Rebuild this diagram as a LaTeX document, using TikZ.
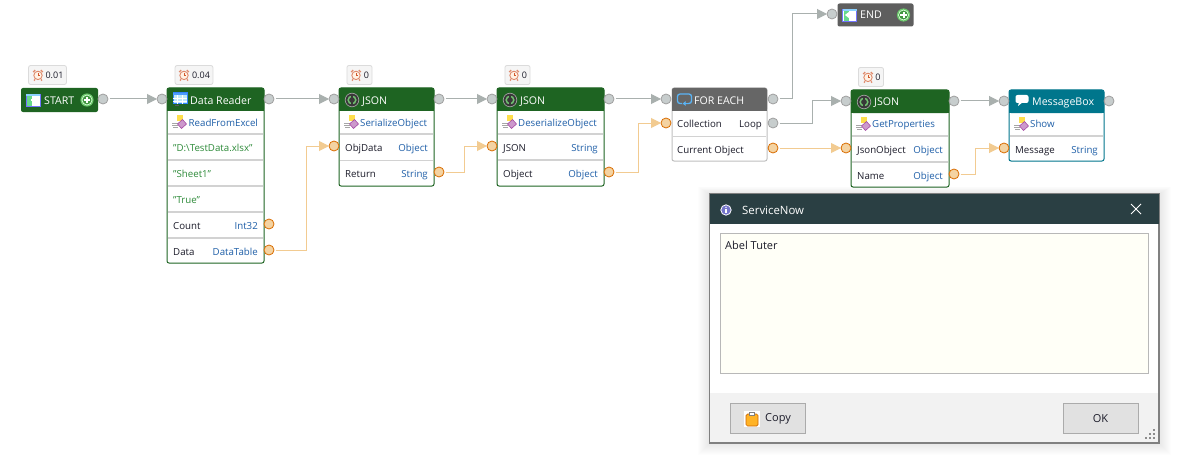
\documentclass[tikz,border=0pt]{standalone}
\usepackage{fontspec}
\setmainfont{Open Sans}
\usetikzlibrary{arrows.meta,calc}
\definecolor{hgreen}{HTML}{1E6422}
\definecolor{hgrey}{HTML}{666666}
\definecolor{hend}{HTML}{5E5E5E}
\definecolor{hteal}{HTML}{00768C}
\definecolor{wiregrey}{HTML}{A9B0AE}
\definecolor{wireorange}{HTML}{F2CB91}
\definecolor{typeblue}{HTML}{1F5FA8}
\definecolor{litgreen}{HTML}{2E8B3A}
\definecolor{labeltext}{HTML}{1C1C2A}
\definecolor{rowgrey}{HTML}{D2D2D2}
\definecolor{titlebg}{HTML}{2A3F43}
\definecolor{btngrey}{HTML}{E1E1E1}
\definecolor{loopblue}{HTML}{5AB4F5}
\tikzset{
    block/.style = {draw=#1, fill=white, rectangle, rounded corners=2pt, line width=1pt,
        anchor=north west, inner sep=0pt, outer sep=0pt},
    header/.style = {fill=#1, rectangle, rounded corners=2pt,
        anchor=north west, inner sep=0pt, outer sep=0pt},
    title/.style = {anchor=west, inner sep=0pt, text=white, font=\fontsize{10.6}{12}\selectfont, text height=9pt, text depth=1pt},
    lbl/.style = {anchor=west, inner sep=0pt, text=labeltext, font=\fontsize{9.7}{12}\selectfont, text height=9pt, text depth=1pt},
    typ/.style = {anchor=east, inner sep=0pt, text=typeblue, font=\fontsize{9.7}{12}\selectfont, text height=9pt, text depth=1pt},
    method/.style = {lbl, text=typeblue},
    literal/.style = {lbl, text=litgreen},
    rowline/.style = {draw=rowgrey, line width=1.6pt},
    port/.style = {draw=#1, circle, minimum size=10pt, inner sep=0pt, outer sep=0pt, line width=.8pt},
    flowport/.style = {port=gray!75, fill=black!18!white!95!teal},
    dataport/.style = {port=orange!85!black, fill=wireorange!85!white},
    flow/.style = {draw=wiregrey, line width=1pt, shorten <=1.5pt, -{Triangle[length=10pt,width=10pt]}},
    data/.style = {draw=wireorange, line width=1pt, shorten <=1.5pt, -{Triangle[length=10pt,width=10pt]}},
    badge/.style = {draw=black!14, fill=black!4, rounded corners=2pt, line width=.8pt, inner xsep=3pt, inner ysep=0pt,
        minimum height=19pt, text=labeltext, font=\fontsize{9}{11}\selectfont},
    btn/.style = {draw=black!33, fill=btngrey, line width=1pt, minimum width=75pt, minimum height=30pt, inner sep=0pt,
        text=labeltext, font=\fontsize{11}{12}\selectfont},
    clockicon/.pic = {
        \draw [draw=brown!70!red!70, fill=orange!10, line width=.9pt] (0,.4) circle [radius=4.2pt];
        \draw [draw=brown!70!red!70, line width=1.3pt] (-4.8,-3) -- (-2.8,-5) (4.8,-3) -- (2.8,-5) (-3,4.4) -- (-4,5.6) (3,4.4) -- (4,5.6);
        \draw [draw=brown!70!red, line width=.6pt] (0,-2) -- (0,.4) -- (1.8,.4);
    },
    plusicon/.pic = {
        \fill [green!45!gray!80!white] (0,0) circle [radius=6.6pt];
        \draw [white!85!green, line width=.7pt, fill=green!45!black!75!white] (0,0) circle [radius=5pt];
        \draw [white, line width=2pt] (-3.2,0) -- (3.2,0) (0,-3.2) -- (0,3.2);
    },
    windowicon/.pic = {
        \draw [draw=blue!55!white, fill=white, line width=.8pt] (-7,-6) rectangle (7,6);
        \fill [blue!40!cyan!45!white] (-7,-6) rectangle (7,-4);
        \fill [teal!50!green!60!white] (-6,-4) rectangle (-1,6);
    },
    readericon/.pic = {
        \draw [draw=blue!60!cyan!80, fill=cyan!25!white, line width=1pt] (-7,-6) rectangle (7,5);
        \fill [blue!55!cyan!70] (-7,-6) rectangle (7,-3.5);
        \draw [draw=white, line width=.6pt] (-7,-1) -- (7,-1) (-7,2) -- (7,2) (-2.5,-3.5) -- (-2.5,5) (2.5,-3.5) -- (2.5,5);
        \draw [draw=black!65, line width=1pt] (-5,7) -- (-1,7);
    },
    jsonicon/.pic = {
        \draw [draw=gray!75, fill=black!78, line width=.7pt] (0,0) circle [radius=6.8pt];
        \draw [draw=gray!60!green!80!white, line width=1.5pt] (0,0) circle [radius=3.8pt];
        \fill [black!78] (-.6,-5) rectangle (.6,5);
    },
    methodicon/.pic = {
        \fill [yellow!70!orange!70!white] (-3,-7) rectangle (2.5,-1);
        \draw [draw=black!35, line width=.6pt] (-8,1) -- (-2,1) (-8,3) -- (-2,3) (-7,5) -- (-2,5);
        \draw [draw=violet!70, fill=violet!40!white, line width=.6pt] (-2.5,2) -- (2.5,-2.5) -- (6.5,2) -- (1.5,6.5) -- cycle;
    },
    loopicon/.pic = {
        \draw [draw=loopblue, line width=1.3pt, rounded corners=2.5pt] (-7,-5.5) rectangle (7,4);
        \fill [hgrey] (-2.5,3) rectangle (3,5);
        \draw [draw=loopblue, -{Latex[length=3pt,width=5pt]}, line width=1.1pt] (3,4) -- (-2,4);
    },
    bubbleicon/.pic = {
        \fill [white, rounded corners=2pt] (-6.5,-5) rectangle (6.5,3);
        \fill [white] (-3,2) -- (-4,6) -- (1,2) -- cycle;
    },
    infoicon/.pic = {
        \draw [draw=white, fill=blue!45!gray!75, line width=.8pt] (0,0) circle [radius=5.2pt];
        \fill [white] (0,-2.6) circle [radius=.8pt];
        \draw [white, line width=1.1pt] (0,-1) -- (0,3);
    },
    clipicon/.pic = {
        \fill [white] (-8,-8) rectangle (8,8);
        \draw [draw=orange!80!black, fill=orange!70!yellow!85, line width=.7pt, rounded corners=1.5pt] (-6,-5) rectangle (6,7);
        \draw [draw=gray, fill=white, line width=.6pt] (-2.5,-7) rectangle (2.5,-4);
    }
}
\begin{document}
\begin{tikzpicture}[x=1pt, y=-1pt, >=latex, font=\fontsize{10}{12}\selectfont]
    \useasboundingbox (0,0) rectangle (1187,460);
    \fill [white] (0,0) rectangle (1187,460);

    \node [header=hgreen, minimum width=77pt, minimum height=24pt] (starthead) at (21,88) {};
    \pic at (33,100) {windowicon};
    \draw [white, -{Triangle[length=4pt,width=6pt]}, line width=1.2pt] (31,100) -- (37,100);
    \node [title] (starttitle) at (44,100) {START};
    \pic at (87,100) {plusicon};
    \node [badge] (startbadge) at (47.5,75) {\hspace*{14pt}0.01};
    \pic at (38,75) {clockicon};
    \node [flowport] (startout) at (103,99) {};

    \node [block=hgreen, minimum width=97pt, minimum height=175pt] (reader) at (167,88) {};
    \node [header=hgreen, minimum width=97pt, minimum height=23pt] (readerhead) at (reader.north west) {};
    \fill [hgreen] ([yshift=3pt]readerhead.south west) rectangle (readerhead.south east);
    \pic at (180,99) {readericon};
    \node [title] (readertitle) at (190,100) {Data Reader};
    \node [badge] (readerbadge) at (194,75) {\hspace*{14pt}0.04};
    \pic at (184,75) {clockicon};
    \pic at (180,122) {methodicon};
    \node [method] (readermethod) at (188.5,122) {ReadFromExcel};
    \node [literal] (readerfile) at (173,147) {"D:\textbackslash TestData.xlsx"};
    \node [literal] (readersheet) at (173,173) {"Sheet1"};
    \node [literal] (readertrue) at (173,199) {"True"};
    \node [lbl] (readercount) at (173,225) {Count};
    \node [typ] (readerint) at (258,225) {Int32};
    \node [lbl] (readerdata) at (173,251) {Data};
    \node [typ] (readertable) at (258,251) {DataTable};
    \draw [rowline] (168,134) -- (263,134);
    \draw [rowline] (168,160) -- (263,160);
    \draw [rowline] (168,186) -- (263,186);
    \draw [rowline] (168,212) -- (263,212);
    \draw [rowline] (168,238) -- (263,238);
    \node [flowport] (readerin) at (162,99) {};
    \node [flowport] (readerout) at (269,99) {};
    \node [dataport] (readercountout) at (269,224) {};
    \node [dataport] (readerdataout) at (269,250) {};

    \node [block=hgreen, minimum width=95pt, minimum height=98pt] (ser) at (339,88) {};
    \node [header=hgreen, minimum width=95pt, minimum height=23pt] (serhead) at (ser.north west) {};
    \fill [hgreen] ([yshift=3pt]serhead.south west) rectangle (serhead.south east);
    \pic at (352,100) {jsonicon};
    \node [title] (sertitle) at (362,100) {JSON};
    \node [badge] (serbadge) at (359.5,75) {\hspace*{14pt}0};
    \pic at (356,75) {clockicon};
    \pic at (352,122) {methodicon};
    \node [method] (sermethod) at (360,122) {SerializeObject};
    \node [lbl] (serobj) at (345,147) {ObjData};
    \node [typ] (serobjtype) at (428,147) {Object};
    \node [lbl] (serret) at (345,173) {Return};
    \node [typ] (serrettype) at (428,173) {String};
    \draw [rowline] (340,134) -- (433,134);
    \draw [rowline, line width=1pt] (340,160) -- (433,160);
    \node [flowport] (serin) at (334,99) {};
    \node [dataport] (serdatain) at (334,146) {};
    \node [flowport] (serout) at (439,99) {};
    \node [dataport] (serdataout) at (439,172) {};

    \node [block=hgreen, minimum width=107pt, minimum height=98pt] (des) at (497,88) {};
    \node [header=hgreen, minimum width=107pt, minimum height=23pt] (deshead) at (des.north west) {};
    \fill [hgreen] ([yshift=3pt]deshead.south west) rectangle (deshead.south east);
    \pic at (510,100) {jsonicon};
    \node [title] (destitle) at (520,100) {JSON};
    \node [badge] (desbadge) at (517.5,75) {\hspace*{14pt}0};
    \pic at (514,75) {clockicon};
    \pic at (510,122) {methodicon};
    \node [method] (desmethod) at (518,122) {DeserializeObject};
    \node [lbl] (desjson) at (503,147) {JSON};
    \node [typ] (desjsontype) at (598,147) {String};
    \node [lbl] (desobj) at (503,173) {Object};
    \node [typ] (desobjtype) at (598,173) {Object};
    \draw [rowline] (498,134) -- (603,134);
    \draw [rowline] (498,160) -- (603,160);
    \node [flowport] (desin) at (492,99) {};
    \node [dataport] (desdatain) at (492,146) {};
    \node [flowport] (desout) at (609,99) {};
    \node [dataport] (desdataout) at (609,172) {};

    \node [block=black!25, minimum width=95pt, minimum height=73pt] (each) at (672,88) {};
    \node [header=hgrey, minimum width=95pt, minimum height=23pt] (eachhead) at (each.north west) {};
    \fill [hgrey] ([yshift=3pt]eachhead.south west) rectangle (eachhead.south east);
    \pic at (684.5,99.5) {loopicon};
    \node [title] (eachtitle) at (694,100) {FOR EACH};
    \node [lbl] (eachcoll) at (677,124) {Collection};
    \node [lbl, anchor=east] (eachloop) at (762,124) {Loop};
    \node [lbl] (eachcur) at (677,149) {Current Object};
    \draw [rowline, line width=1pt] (673,136) -- (766,136);
    \node [flowport] (eachin) at (666,99) {};
    \node [dataport] (eachdatain) at (666,123) {};
    \node [flowport] (eachout) at (773,99) {};
    \node [flowport] (eachloopout) at (773,123) {};
    \node [dataport] (eachcurout) at (773,148) {};

    \node [header=hend, minimum width=76pt, minimum height=23pt] (endhead) at (837.5,3.5) {};
    \pic at (849.5,15) {windowicon};
    \draw [white, -{Triangle[length=4pt,width=6pt]}, line width=1.2pt] (851,15) -- (845,15);
    \node [title] (endtitle) at (860,15) {END};
    \pic at (903.5,15) {plusicon};
    \node [flowport] (endin) at (832,14) {};

    \node [block=hgreen, minimum width=98pt, minimum height=97pt] (props) at (851,90) {};
    \node [header=hgreen, minimum width=98pt, minimum height=23pt] (propshead) at (props.north west) {};
    \fill [hgreen] ([yshift=3pt]propshead.south west) rectangle (propshead.south east);
    \pic at (864,102) {jsonicon};
    \node [title] (propstitle) at (874,102) {JSON};
    \node [badge] (propsbadge) at (871,77) {\hspace*{14pt}0};
    \pic at (868,77) {clockicon};
    \pic at (864,124) {methodicon};
    \node [method] (propsmethod) at (872,124) {GetProperties};
    \node [lbl] (propsjson) at (857,149) {JsonObject};
    \node [typ] (propsjsontype) at (943,149) {Object};
    \node [lbl] (propsname) at (857,175) {Name};
    \node [typ] (propsnametype) at (943,175) {Object};
    \draw [rowline] (852,136) -- (948,136);
    \draw [rowline] (852,162) -- (948,162);
    \node [flowport] (propsin) at (846,101) {};
    \node [dataport] (propsdatain) at (846,148) {};
    \node [flowport] (propsout) at (954,101) {};
    \node [dataport] (propsdataout) at (954,174) {};

    \node [block=hteal, minimum width=95pt, minimum height=71pt] (msg) at (1009,90) {};
    \node [header=hteal, minimum width=95pt, minimum height=23pt] (msghead) at (msg.north west) {};
    \fill [hteal] ([yshift=3pt]msghead.south west) rectangle (msghead.south east);
    \pic at (1022,100) {bubbleicon};
    \node [title] (msgtitle) at (1032,102) {MessageBox};
    \pic at (1022,124) {methodicon};
    \node [method] (msgmethod) at (1030,124) {Show};
    \node [lbl] (msgmsg) at (1015,149) {Message};
    \node [typ] (msgtype) at (1098,149) {String};
    \draw [rowline] (1010,136) -- (1103,136);
    \node [flowport] (msgin) at (1004,101) {};
    \node [dataport] (msgdatain) at (1004,148) {};
    \node [flowport] (msgout) at (1109,101) {};

    \draw [flow] (startout) -- (readerin);
    \draw [flow] (readerout) -- (serin);
    \draw [flow] (serout) -- (desin);
    \draw [flow] (desout) -- (eachin);
    \draw [flow] (eachout) -| ([xshift=-40pt]endin.center) -- (endin);
    \draw [flow] (eachloopout) -| ([xshift=-34pt]propsin.center) -- (propsin);
    \draw [flow] (propsout) -- (msgin);
    \draw [data] (readerdataout) -| ([xshift=-28pt]serdatain.center) -- (serdatain);
    \draw [data] (serdataout) -| ([xshift=-28pt]desdatain.center) -- (desdatain);
    \draw [data] (desdataout) -| ([xshift=-28pt]eachdatain.center) -- (eachdatain);
    \draw [data] (eachcurout) -- (propsdatain);
    \draw [data] (propsdataout) -| ([xshift=-29pt]msgdatain.center) -- (msgdatain);

    \foreach \grow in {1,...,12}
        \fill [black, opacity=.008] (709.5-\grow,194-.6*\grow) rectangle (1159+\grow,443+\grow);
    \node [draw=black!50, fill=white, line width=1.2pt, minimum width=449.5pt, minimum height=249pt, anchor=north west, inner sep=0pt, outer sep=0pt] (dialog) at (709.5,194) {};
    \node [fill=titlebg, minimum width=449.5pt, minimum height=30pt, anchor=north west, inner sep=0pt, outer sep=0pt] (titlebar) at (709.5,194) {};
    \pic at (726,210) {infoicon};
    \node [title, font=\fontsize{11.4}{12}\selectfont] (dialogtitle) at (742,210) {ServiceNow};
    \draw [white, line width=1pt] (1131,204) -- (1141,214) (1141,204) -- (1131,214);
    \node [draw=black!28, fill=yellow!3!white, line width=1pt, minimum width=428pt, minimum height=140pt, anchor=north west, inner sep=0pt, outer sep=0pt] (msgtext) at (720,233) {};
    \node [lbl, font=\fontsize{11}{12}\selectfont] (msgvalue) at (725,245) {Abel Tuter};
    \fill [black!5] (710.1,393) rectangle (1158.4,442.4);
    \node [btn] (copybtn) at (767.5,418.5) {\hspace*{21pt}Copy};
    \pic at (752,419) {clipicon};
    \node [btn] (okbtn) at (1100.5,418.5) {OK};
    \foreach \dotx/\doty in {1154/430,1150/434,1154/434,1146/438,1150/438,1154/438}
        \fill [black!45] (\dotx-1,\doty-1) rectangle (\dotx+1,\doty+1);
\end{tikzpicture}
\end{document}
